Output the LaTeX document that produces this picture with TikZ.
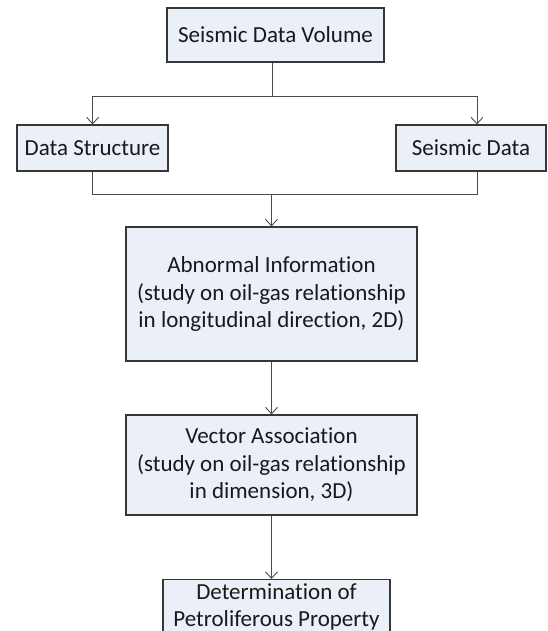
\documentclass[tikz,border=0pt]{standalone}
\usepackage{fontspec}
\setmainfont{Carlito}[Ligatures=NoCommon]
\usetikzlibrary{arrows.meta,calc}
\definecolor{boxfill}{RGB}{234,239,248}
\definecolor{boxdraw}{RGB}{55,55,55}
\definecolor{linecol}{RGB}{75,75,75}
\definecolor{txtcol}{RGB}{25,25,25}
\tikzset{
  box/.style={draw=boxdraw, fill=boxfill, line width=1.1pt, align=center,
    inner sep=0pt, text=txtcol, font=\fontsize{23}{27.5}\selectfont},
  txt/.style={align=center, inner sep=0pt, text=txtcol, font=\fontsize{23}{27.5}\selectfont},
  conn/.style={draw=linecol, line width=0.9pt},
  arr/.style={-{Straight Barb[length=6.5pt,width=12pt,line width=0.9pt]}},
}
\begin{document}
\begin{tikzpicture}[x=1pt,y=-1pt]
\useasboundingbox (0,0) rectangle (548,631);
\clip (0,0) rectangle (548,631);
\fill[white] (0,0) rectangle (548,631);
\node[box, minimum width=217pt, minimum height=54pt] (top) at (275.5,35) {Seismic Data Volume};
\node[box, minimum width=151pt, minimum height=46pt] (ds) at (92.5,148) {Data Structure};
\node[box, minimum width=150pt, minimum height=46pt] (sd) at (471,148) {Seismic Data};
\node[box, minimum width=291pt, minimum height=134pt] (ab) at (271.5,294)
  {Abnormal Information\\(study on oil-gas relationship\\in longitudinal direction, 2D)};
\node[box, minimum width=291pt, minimum height=100pt] (va) at (271.5,465)
  {Vector Association\\(study on oil-gas relationship\\in dimension, 3D)};
\node[box, minimum width=227pt, minimum height=90pt, anchor=north] (det) at (276.5,579) {};
\node[txt, anchor=north] (dettext) at ([yshift=-4pt]det.north) {Determination of\\Petroliferous Property};
\coordinate (bl) at (92.6,96);
\coordinate (br) at (477,96);
\coordinate (ml) at (92.6,194);
\coordinate (mr) at (477,194);
\draw[conn] ([xshift=-3.5pt]top.south) -- ([xshift=-3.5pt]top.south |- bl);
\draw[conn] (bl) -- (br);
\draw[conn,arr] (bl) -- (bl |- ds.north);
\draw[conn,arr] (br) -- (br |- sd.north);
\draw[conn] (ds.south -| ml) -- (ml) -- (mr) -- (sd.south -| mr);
\draw[conn,arr] (ab.north |- ml) -- (ab.north);
\draw[conn,arr] (ab.south) -- (va.north);
\draw[conn,arr] (va.south) -- (va.south |- det.north);
\end{tikzpicture}
\end{document}
